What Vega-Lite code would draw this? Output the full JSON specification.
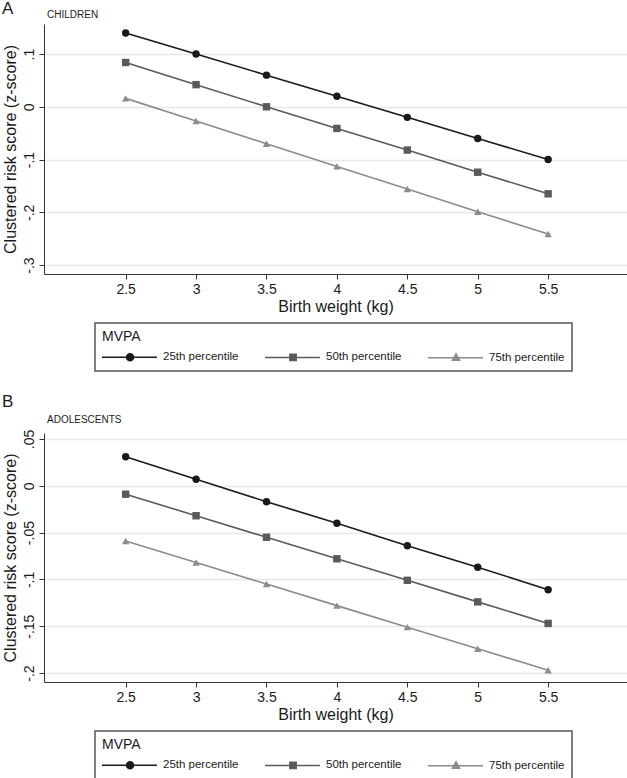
{
  "$schema": "https://vega.github.io/schema/vega-lite/v6.json",
  "padding": {"left": 2, "top": 0, "right": 0, "bottom": 0},
  "background": "white",
  "spacing": 21,
  "config": {
    "font": "Liberation Sans",
    "view": {"stroke": null},
    "title": {"color": "#1a1a1a", "fontWeight": "normal"},
    "axis": {"domainColor": "#333333", "tickColor": "#333333", "tickSize": 5, "labelColor": "#1a1a1a", "titleColor": "#1a1a1a", "labelFontSize": 14, "titleFontSize": 16, "titleFontWeight": "normal"},
    "axisX": {"grid": false, "labelPadding": 3, "titlePadding": 2},
    "axisY": {"grid": true, "gridColor": "#e8e8e8", "gridWidth": 1.5, "labelAngle": -90, "labelAlign": "center", "labelBaseline": "bottom", "labelPadding": 3, "titlePadding": 4, "labelOverlap": false},
    "legend": {
      "orient": "none", "legendX": 51, "legendY": 299, "direction": "horizontal", "columns": 3,
      "titleFontSize": 14, "titleFontWeight": "normal", "titleColor": "#1a1a1a", "titlePadding": 5,
      "labelFontSize": 11.5, "labelColor": "#1a1a1a", "labelOffset": 45, "columnPadding": 23,
      "symbolSize": 196, "symbolStrokeWidth": 1.5, "fillColor": "white", "padding": 7
    }
  },
  "datasets": {
    "children": [
      {"bw": 2.5, "score": 0.140, "pct": "25th percentile"},
      {"bw": 3.0, "score": 0.100, "pct": "25th percentile"},
      {"bw": 3.5, "score": 0.060, "pct": "25th percentile"},
      {"bw": 4.0, "score": 0.020, "pct": "25th percentile"},
      {"bw": 4.5, "score": -0.020, "pct": "25th percentile"},
      {"bw": 5.0, "score": -0.060, "pct": "25th percentile"},
      {"bw": 5.5, "score": -0.100, "pct": "25th percentile"},
      {"bw": 2.5, "score": 0.084, "pct": "50th percentile"},
      {"bw": 3.0, "score": 0.042, "pct": "50th percentile"},
      {"bw": 3.5, "score": 0.000, "pct": "50th percentile"},
      {"bw": 4.0, "score": -0.041, "pct": "50th percentile"},
      {"bw": 4.5, "score": -0.082, "pct": "50th percentile"},
      {"bw": 5.0, "score": -0.124, "pct": "50th percentile"},
      {"bw": 5.5, "score": -0.165, "pct": "50th percentile"},
      {"bw": 2.5, "score": 0.016, "pct": "75th percentile"},
      {"bw": 3.0, "score": -0.027, "pct": "75th percentile"},
      {"bw": 3.5, "score": -0.070, "pct": "75th percentile"},
      {"bw": 4.0, "score": -0.113, "pct": "75th percentile"},
      {"bw": 4.5, "score": -0.156, "pct": "75th percentile"},
      {"bw": 5.0, "score": -0.199, "pct": "75th percentile"},
      {"bw": 5.5, "score": -0.241, "pct": "75th percentile"}
    ],
    "adolescents": [
      {"bw": 2.5, "score": 0.031, "pct": "25th percentile"},
      {"bw": 3.0, "score": 0.007, "pct": "25th percentile"},
      {"bw": 3.5, "score": -0.017, "pct": "25th percentile"},
      {"bw": 4.0, "score": -0.040, "pct": "25th percentile"},
      {"bw": 4.5, "score": -0.064, "pct": "25th percentile"},
      {"bw": 5.0, "score": -0.087, "pct": "25th percentile"},
      {"bw": 5.5, "score": -0.111, "pct": "25th percentile"},
      {"bw": 2.5, "score": -0.009, "pct": "50th percentile"},
      {"bw": 3.0, "score": -0.032, "pct": "50th percentile"},
      {"bw": 3.5, "score": -0.055, "pct": "50th percentile"},
      {"bw": 4.0, "score": -0.078, "pct": "50th percentile"},
      {"bw": 4.5, "score": -0.101, "pct": "50th percentile"},
      {"bw": 5.0, "score": -0.124, "pct": "50th percentile"},
      {"bw": 5.5, "score": -0.147, "pct": "50th percentile"},
      {"bw": 2.5, "score": -0.059, "pct": "75th percentile"},
      {"bw": 3.0, "score": -0.082, "pct": "75th percentile"},
      {"bw": 3.5, "score": -0.105, "pct": "75th percentile"},
      {"bw": 4.0, "score": -0.128, "pct": "75th percentile"},
      {"bw": 4.5, "score": -0.151, "pct": "75th percentile"},
      {"bw": 5.0, "score": -0.174, "pct": "75th percentile"},
      {"bw": 5.5, "score": -0.197, "pct": "75th percentile"}
    ]
  },
  "resolve": {
    "scale": {"x": "independent", "y": "independent", "color": "independent"},
    "axis": {"x": "independent", "y": "independent"},
    "legend": {"color": "independent"}
  },
  "vconcat": [
    {
      "title": {"text": "A", "anchor": "start", "frame": "bounds", "fontSize": 17, "offset": -8},
      "resolve": {
        "scale": {"x": "independent", "y": "independent", "color": "independent"},
        "axis": {"x": "independent", "y": "independent"},
        "legend": {"color": "independent"}
      },
      "vconcat": [
        {
          "title": {"text": "CHILDREN", "anchor": "start", "frame": "group", "fontSize": 10, "offset": 4, "dx": 3},
          "width": 583,
          "height": 250,
          "data": {"name": "children"},
          "encoding": {
            "x": {"field": "bw", "type": "quantitative", "title": "Birth weight (kg)",
              "scale": {"domain": [1.92, 6.06], "nice": false, "zero": false},
              "axis": {"values": [2.5, 3, 3.5, 4, 4.5, 5, 5.5], "labelExpr": "datum.value + ''"}},
            "y": {"field": "score", "type": "quantitative", "title": "Clustered risk score (z-score)",
              "scale": {"domain": [-0.317, 0.157], "nice": false, "zero": false},
              "axis": {"values": [-0.3, -0.2, -0.1, 0, 0.1], "labelExpr": "replace(datum.value + '', '0.', '.')"}},
            "color": {"field": "pct", "type": "nominal",
              "scale": {"domain": ["25th percentile", "50th percentile", "75th percentile"], "range": ["#1a1a1a", "#5a5a5a", "#8c8c8c"]},
              "legend": {"title": "MVPA",
                "encode": {
                  "legend": {"update": {"stroke": {"value": "#555555"}, "strokeWidth": {"value": 1.5}}},
                  "symbols": {"update": {
                    "shape": {"signal": "datum.value === '25th percentile' ? 'M-1.14,0H6.71M3.36,0A0.5,0.5 0 1,1 2.36,0A0.5,0.5 0 1,1 3.36,0Z' : datum.value === '50th percentile' ? 'M-1.14,0H6.71M2.41,-0.45H3.31V0.45H2.41Z' : 'M-1.14,0H6.71M2.86,-0.56L3.38,0.38H2.34Z'"},
                    "fill": {"signal": "datum.value === '25th percentile' ? '#1a1a1a' : datum.value === '50th percentile' ? '#5a5a5a' : '#8c8c8c'"},
                    "stroke": {"signal": "datum.value === '25th percentile' ? '#1a1a1a' : datum.value === '50th percentile' ? '#5a5a5a' : '#8c8c8c'"},
                    "strokeWidth": {"value": 1.5},
                    "opacity": {"value": 1}
                  }}
                }}}
          },
          "layer": [
            {"mark": {"type": "line", "strokeWidth": 1.6}},
            {"transform": [{"filter": "datum.pct === '25th percentile'"}],
             "mark": {"type": "point", "filled": true, "opacity": 1, "shape": "circle", "size": 55}},
            {"transform": [{"filter": "datum.pct === '50th percentile'"}],
             "mark": {"type": "point", "filled": true, "opacity": 1, "shape": "square", "size": 55}},
            {"transform": [{"filter": "datum.pct === '75th percentile'"}],
             "mark": {"type": "point", "filled": true, "opacity": 1, "shape": "triangle-up", "size": 55}}
          ]
        }
      ]
    },
    {
      "title": {"text": "B", "anchor": "start", "frame": "bounds", "fontSize": 17, "offset": 4},
      "resolve": {
        "scale": {"x": "independent", "y": "independent", "color": "independent"},
        "axis": {"x": "independent", "y": "independent"},
        "legend": {"color": "independent"}
      },
      "vconcat": [
        {
          "title": {"text": "ADOLESCENTS", "anchor": "start", "frame": "group", "fontSize": 10, "offset": 4, "dx": 3},
          "width": 583,
          "height": 249,
          "data": {"name": "adolescents"},
          "encoding": {
            "x": {"field": "bw", "type": "quantitative", "title": "Birth weight (kg)",
              "scale": {"domain": [1.92, 6.06], "nice": false, "zero": false},
              "axis": {"values": [2.5, 3, 3.5, 4, 4.5, 5, 5.5], "labelExpr": "datum.value + ''"}},
            "y": {"field": "score", "type": "quantitative", "title": "Clustered risk score (z-score)",
              "scale": {"domain": [-0.2096, 0.0564], "nice": false, "zero": false},
              "axis": {"values": [-0.2, -0.15, -0.1, -0.05, 0, 0.05], "labelExpr": "replace(datum.value + '', '0.', '.')"}},
            "color": {"field": "pct", "type": "nominal",
              "scale": {"domain": ["25th percentile", "50th percentile", "75th percentile"], "range": ["#1a1a1a", "#5a5a5a", "#8c8c8c"]},
              "legend": {"title": "MVPA", "legendY": 298,
                "encode": {
                  "legend": {"update": {"stroke": {"value": "#555555"}, "strokeWidth": {"value": 1.5}}},
                  "symbols": {"update": {
                    "shape": {"signal": "datum.value === '25th percentile' ? 'M-1.14,0H6.71M3.36,0A0.5,0.5 0 1,1 2.36,0A0.5,0.5 0 1,1 3.36,0Z' : datum.value === '50th percentile' ? 'M-1.14,0H6.71M2.41,-0.45H3.31V0.45H2.41Z' : 'M-1.14,0H6.71M2.86,-0.56L3.38,0.38H2.34Z'"},
                    "fill": {"signal": "datum.value === '25th percentile' ? '#1a1a1a' : datum.value === '50th percentile' ? '#5a5a5a' : '#8c8c8c'"},
                    "stroke": {"signal": "datum.value === '25th percentile' ? '#1a1a1a' : datum.value === '50th percentile' ? '#5a5a5a' : '#8c8c8c'"},
                    "strokeWidth": {"value": 1.5},
                    "opacity": {"value": 1}
                  }}
                }}}
          },
          "layer": [
            {"mark": {"type": "line", "strokeWidth": 1.6}},
            {"transform": [{"filter": "datum.pct === '25th percentile'"}],
             "mark": {"type": "point", "filled": true, "opacity": 1, "shape": "circle", "size": 55}},
            {"transform": [{"filter": "datum.pct === '50th percentile'"}],
             "mark": {"type": "point", "filled": true, "opacity": 1, "shape": "square", "size": 55}},
            {"transform": [{"filter": "datum.pct === '75th percentile'"}],
             "mark": {"type": "point", "filled": true, "opacity": 1, "shape": "triangle-up", "size": 55}}
          ]
        }
      ]
    }
  ]
}
